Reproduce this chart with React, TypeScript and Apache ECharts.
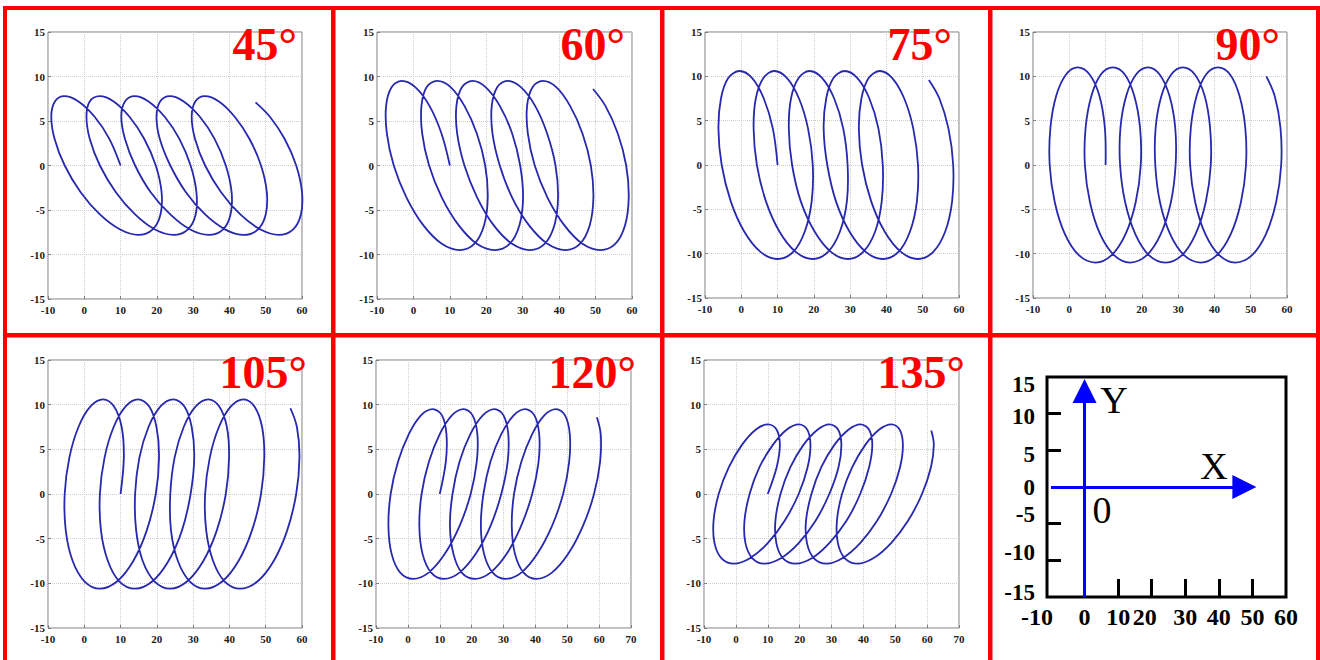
import React, { useEffect, useRef } from 'react';
import * as echarts from 'echarts';

// Helix traces (x, y) for each tilt angle, one turn every 16 samples.
const helix45: [number, number][] = [
  [10.0, 0], [6.9, 3.0], [2.8, 5.5], [-1.6, 7.2], [-5.5, 7.8], [-8.1, 7.2], [-9.1, 5.5], [-8.2, 3.0], [-5.4, 0], [-1.0, -3.0], [4.3, -5.5], [9.9, -7.2], [14.9, -7.8], [18.8, -7.2], [21.0, -5.5], [21.3, -3.0], [19.7, 0], [16.5, 3.0], [12.4, 5.5], [8.1, 7.2],
  [4.2, 7.8], [1.5, 7.2], [0.6, 5.5], [1.5, 3.0], [4.3, 0], [8.7, -3.0], [14.0, -5.5], [19.5, -7.2], [24.6, -7.8], [28.5, -7.2], [30.7, -5.5], [30.9, -3.0], [29.3, 0], [26.2, 3.0], [22.1, 5.5], [17.7, 7.2],
  [13.9, 7.8], [11.2, 7.2], [10.2, 5.5], [11.2, 3.0], [14.0, 0], [18.3, -3.0], [23.7, -5.5], [29.2, -7.2], [34.3, -7.8], [38.2, -7.2], [40.3, -5.5], [40.6, -3.0], [39.0, 0], [35.9, 3.0], [31.8, 5.5], [27.4, 7.2],
  [23.6, 7.8], [20.9, 7.2], [19.9, 5.5], [20.8, 3.0], [23.7, 0], [28.0, -3.0], [33.3, -5.5], [38.9, -7.2], [44.0, -7.8], [47.8, -7.2], [50.0, -5.5], [50.3, -3.0], [48.7, 0], [45.5, 3.0], [41.4, 5.5], [37.1, 7.2],
  [33.2, 7.8], [30.6, 7.2], [29.6, 5.5], [30.5, 3.0], [33.3, 0], [37.7, -3.0], [43.0, -5.5], [48.6, -7.2], [53.6, -7.8], [57.5, -7.2], [59.7, -5.5], [60.0, -3.0], [58.4, 0], [55.2, 3.0], [51.1, 5.5], [47.2, 7.1],
];

const helix60: [number, number][] = [
  [10.0, 0], [7.7, 3.6], [4.4, 6.7], [0.5, 8.8], [-3.2, 9.5], [-6.0, 8.8], [-7.5, 6.7], [-7.3, 3.6], [-5.4, 0], [-1.9, -3.6], [2.7, -6.7], [7.8, -8.8], [12.7, -9.5], [16.7, -8.8], [19.4, -6.7], [20.4, -3.6], [19.7, 0], [17.4, 3.6], [14.0, 6.7], [10.2, 8.8],
  [6.5, 9.5], [3.6, 8.8], [2.2, 6.7], [2.4, 3.6], [4.3, 0], [7.8, -3.6], [12.4, -6.7], [17.4, -8.8], [22.3, -9.5], [26.4, -8.8], [29.1, -6.7], [30.1, -3.6], [29.3, 0], [27.1, 3.6], [23.7, 6.7], [19.8, 8.8],
  [16.2, 9.5], [13.3, 8.8], [11.8, 6.7], [12.0, 3.6], [14.0, 0], [17.5, -3.6], [22.0, -6.7], [27.1, -8.8], [32.0, -9.5], [36.0, -8.8], [38.7, -6.7], [39.7, -3.6], [39.0, 0], [36.7, 3.6], [33.4, 6.7], [29.5, 8.8],
  [25.8, 9.5], [23.0, 8.8], [21.5, 6.7], [21.7, 3.6], [23.7, 0], [27.1, -3.6], [31.7, -6.7], [36.8, -8.8], [41.7, -9.5], [45.7, -8.8], [48.4, -6.7], [49.4, -3.6], [48.7, 0], [46.4, 3.6], [43.0, 6.7], [39.2, 8.8],
  [35.5, 9.5], [32.7, 8.8], [31.2, 6.7], [31.4, 3.6], [33.3, 0], [36.8, -3.6], [41.4, -6.7], [46.4, -8.8], [51.3, -9.5], [55.4, -8.8], [58.1, -6.7], [59.1, -3.6], [58.4, 0], [56.1, 3.6], [52.7, 6.7], [49.3, 8.6],
];

const helix75: [number, number][] = [
  [10.0, 0], [8.7, 4.1], [6.2, 7.5], [3.0, 9.8], [-0.5, 10.6], [-3.6, 9.8], [-5.6, 7.5], [-6.3, 4.1], [-5.4, 0], [-2.9, -4.1], [0.8, -7.5], [5.3, -9.8], [10.0, -10.6], [14.3, -9.8], [17.5, -7.5], [19.4, -4.1], [19.7, 0], [18.4, 4.1], [15.9, 7.5], [12.6, 9.8],
  [9.1, 10.6], [6.1, 9.8], [4.0, 7.5], [3.4, 4.1], [4.3, 0], [6.8, -4.1], [10.5, -7.5], [15.0, -9.8], [19.7, -10.6], [23.9, -9.8], [27.2, -7.5], [29.1, -4.1], [29.3, 0], [28.1, 4.1], [25.6, 7.5], [22.3, 9.8],
  [18.8, 10.6], [15.8, 9.8], [13.7, 7.5], [13.1, 4.1], [14.0, 0], [16.4, -4.1], [20.2, -7.5], [24.7, -9.8], [29.4, -10.6], [33.6, -9.8], [36.9, -7.5], [38.7, -4.1], [39.0, 0], [37.8, 4.1], [35.3, 7.5], [32.0, 9.8],
  [28.5, 10.6], [25.4, 9.8], [23.4, 7.5], [22.7, 4.1], [23.7, 0], [26.1, -4.1], [29.8, -7.5], [34.3, -9.8], [39.0, -10.6], [43.3, -9.8], [46.5, -7.5], [48.4, -4.1], [48.7, 0], [47.4, 4.1], [44.9, 7.5], [41.6, 9.8],
  [38.2, 10.6], [35.1, 9.8], [33.1, 7.5], [32.4, 4.1], [33.3, 0], [35.8, -4.1], [39.5, -7.5], [44.0, -9.8], [48.7, -10.6], [52.9, -9.8], [56.2, -7.5], [58.1, -4.1], [58.4, 0], [57.1, 4.1], [54.6, 7.5], [51.7, 9.6],
];

const helix90: [number, number][] = [
  [10.0, 0], [9.8, 4.2], [8.3, 7.8], [5.6, 10.2], [2.3, 11], [-0.9, 10.2], [-3.6, 7.8], [-5.2, 4.2], [-5.4, 0], [-4.0, -4.2], [-1.2, -7.8], [2.7, -10.2], [7.2, -11], [11.6, -10.2], [15.5, -7.8], [18.3, -4.2], [19.7, 0], [19.5, 4.2], [17.9, 7.8], [15.3, 10.2],
  [12.0, 11], [8.7, 10.2], [6.1, 7.8], [4.5, 4.2], [4.3, 0], [5.7, -4.2], [8.5, -7.8], [12.4, -10.2], [16.8, -11], [21.3, -10.2], [25.2, -7.8], [28.0, -4.2], [29.3, 0], [29.2, 4.2], [27.6, 7.8], [24.9, 10.2],
  [21.7, 11], [18.4, 10.2], [15.7, 7.8], [14.1, 4.2], [14.0, 0], [15.4, -4.2], [18.2, -7.8], [22.0, -10.2], [26.5, -11], [31.0, -10.2], [34.8, -7.8], [37.6, -4.2], [39.0, 0], [38.8, 4.2], [37.3, 7.8], [34.6, 10.2],
  [31.3, 11], [28.1, 10.2], [25.4, 7.8], [23.8, 4.2], [23.7, 0], [25.0, -4.2], [27.8, -7.8], [31.7, -10.2], [36.2, -11], [40.6, -10.2], [44.5, -7.8], [47.3, -4.2], [48.7, 0], [48.5, 4.2], [46.9, 7.8], [44.3, 10.2],
  [41.0, 11], [37.7, 10.2], [35.1, 7.8], [33.5, 4.2], [33.3, 0], [34.7, -4.2], [37.5, -7.8], [41.4, -10.2], [45.8, -11], [50.3, -10.2], [54.2, -7.8], [57.0, -4.2], [58.4, 0], [58.2, 4.2], [56.6, 7.8], [54.3, 10.0],
];

const helix105: [number, number][] = [
  [10.0, 0], [10.9, 4.1], [10.3, 7.5], [8.2, 9.8], [5.2, 10.6], [1.7, 9.8], [-1.6, 7.5], [-4.1, 4.1], [-5.4, 0], [-5.1, -4.1], [-3.2, -7.5], [0.1, -9.8], [4.3, -10.6], [9.0, -9.8], [13.5, -7.5], [17.2, -4.1], [19.7, 0], [20.6, 4.1], [19.9, 7.5], [17.9, 9.8],
  [14.8, 10.6], [11.4, 9.8], [8.1, 7.5], [5.6, 4.1], [4.3, 0], [4.6, -4.1], [6.5, -7.5], [9.7, -9.8], [14.0, -10.6], [18.7, -9.8], [23.2, -7.5], [26.9, -4.1], [29.3, 0], [30.3, 4.1], [29.6, 7.5], [27.6, 9.8],
  [24.5, 10.6], [21.0, 9.8], [17.7, 7.5], [15.2, 4.1], [14.0, 0], [14.3, -4.1], [16.1, -7.5], [19.4, -9.8], [23.7, -10.6], [28.3, -9.8], [32.8, -7.5], [36.5, -4.1], [39.0, 0], [39.9, 4.1], [39.3, 7.5], [37.2, 9.8],
  [34.2, 10.6], [30.7, 9.8], [27.4, 7.5], [24.9, 4.1], [23.7, 0], [23.9, -4.1], [25.8, -7.5], [29.1, -9.8], [33.3, -10.6], [38.0, -9.8], [42.5, -7.5], [46.2, -4.1], [48.7, 0], [49.6, 4.1], [49.0, 7.5], [46.9, 9.8],
  [43.9, 10.6], [40.4, 9.8], [37.1, 7.5], [34.6, 4.1], [33.3, 0], [33.6, -4.1], [35.5, -7.5], [38.7, -9.8], [43.0, -10.6], [47.7, -9.8], [52.2, -7.5], [55.9, -4.1], [58.4, 0], [59.3, 4.1], [58.6, 7.5], [56.8, 9.6],
];

const helix120: [number, number][] = [
  [10.0, 0], [11.9, 3.6], [12.1, 6.7], [10.7, 8.8], [7.8, 9.5], [4.1, 8.8], [0.3, 6.7], [-3.1, 3.6], [-5.4, 0], [-6.1, -3.6], [-5.1, -6.7], [-2.4, -8.8], [1.7, -9.5], [6.5, -8.8], [11.6, -6.7], [16.2, -3.6], [19.7, 0], [21.6, 3.6], [21.8, 6.7], [20.3, 8.8],
  [17.5, 9.5], [13.8, 8.8], [10.0, 6.7], [6.6, 3.6], [4.3, 0], [3.6, -3.6], [4.6, -6.7], [7.3, -8.8], [11.3, -9.5], [16.2, -8.8], [21.3, -6.7], [25.9, -3.6], [29.3, 0], [31.3, 3.6], [31.5, 6.7], [30.0, 8.8],
  [27.2, 9.5], [23.5, 8.8], [19.6, 6.7], [16.2, 3.6], [14.0, 0], [13.2, -3.6], [14.3, -6.7], [16.9, -8.8], [21.0, -9.5], [25.9, -8.8], [31.0, -6.7], [35.5, -3.6], [39.0, 0], [41.0, 3.6], [41.2, 6.7], [39.7, 8.8],
  [36.8, 9.5], [33.2, 8.8], [29.3, 6.7], [25.9, 3.6], [23.7, 0], [22.9, -3.6], [23.9, -6.7], [26.6, -8.8], [30.7, -9.5], [35.6, -8.8], [40.6, -6.7], [45.2, -3.6], [48.7, 0], [50.6, 3.6], [50.8, 6.7], [49.3, 8.8],
  [46.5, 9.5], [42.8, 8.8], [39.0, 6.7], [35.6, 3.6], [33.3, 0], [32.6, -3.6], [33.6, -6.7], [36.3, -8.8], [40.3, -9.5], [45.2, -8.8], [50.3, -6.7], [54.9, -3.6], [58.4, 0], [60.3, 3.6], [60.5, 6.7], [59.3, 8.6],
];

const helix135: [number, number][] = [
  [10.0, 0], [12.8, 3.0], [13.8, 5.5], [12.8, 7.2], [10.1, 7.8], [6.2, 7.2], [1.9, 5.5], [-2.2, 3.0], [-5.4, 0], [-7.0, -3.0], [-6.7, -5.5], [-4.5, -7.2], [-0.6, -7.8], [4.4, -7.2], [10.0, -5.5], [15.3, -3.0], [19.7, 0], [22.5, 3.0], [23.4, 5.5], [22.4, 7.2],
  [19.8, 7.8], [15.9, 7.2], [11.6, 5.5], [7.4, 3.0], [4.3, 0], [2.7, -3.0], [3.0, -5.5], [5.2, -7.2], [9.0, -7.8], [14.1, -7.2], [19.7, -5.5], [25.0, -3.0], [29.3, 0], [32.2, 3.0], [33.1, 5.5], [32.1, 7.2],
  [29.4, 7.8], [25.6, 7.2], [21.2, 5.5], [17.1, 3.0], [14.0, 0], [12.4, -3.0], [12.7, -5.5], [14.8, -7.2], [18.7, -7.8], [23.8, -7.2], [29.3, -5.5], [34.7, -3.0], [39.0, 0], [41.8, 3.0], [42.8, 5.5], [41.8, 7.2],
  [39.1, 7.8], [35.3, 7.2], [30.9, 5.5], [26.8, 3.0], [23.7, 0], [22.0, -3.0], [22.3, -5.5], [24.5, -7.2], [28.4, -7.8], [33.4, -7.2], [39.0, -5.5], [44.3, -3.0], [48.7, 0], [51.5, 3.0], [52.4, 5.5], [51.4, 7.2],
  [48.8, 7.8], [44.9, 7.2], [40.6, 5.5], [36.5, 3.0], [33.3, 0], [31.7, -3.0], [32.0, -5.5], [34.2, -7.2], [38.1, -7.8], [43.1, -7.2], [48.7, -5.5], [54.0, -3.0], [58.4, 0], [61.2, 3.0], [62.1, 5.5], [61.3, 7.1],
];

const helices = [helix45, helix60, helix75, helix90, helix105, helix120, helix135];
const panelTitles = ['45°', '60°', '75°', '90°', '105°', '120°', '135°'];
const panelXMax = [60, 60, 60, 60, 60, 70, 70];

// Coordinate-frame sketch: axis arrows and their names.
const xArrow: [number, number][] = [[-10, 0], [47.6, 0]];
const yArrow: [number, number][] = [[0, -15], [0, 13.1]];
const frameTickX = [10, 20, 30, 40, 50];
const frameTickY = [-10, -5, 5, 10];
const frameNames = ['Y', 'X', '0'];

// Layout
const plotRects = [
  { left: 48, top: 32, width: 254, height: 267 },
  { left: 377, top: 32, width: 255, height: 267 },
  { left: 705, top: 32, width: 254, height: 266 },
  { left: 1033, top: 32, width: 254, height: 266 },
  { left: 48, top: 360, width: 254, height: 268 },
  { left: 376, top: 360, width: 255, height: 268 },
  { left: 704, top: 360, width: 255, height: 268 },
];
const titlePos = [
  [297, 44], [625, 44], [952, 44], [1280, 44],
  [307, 372], [636, 372], [965, 372],
];
const frameRect = { left: 1051, top: 377, width: 235, height: 220 };
const frameBox = { x: 1047, y: 377, width: 239, height: 220 };
const namePos = [[1114, 400], [1214, 466], [1102, 510]];
const redBars = [
  [3, 6, 1317, 4], [3, 6, 4, 654], [1316, 6, 4, 654], [3, 333, 1317, 4.5],
  [331, 6, 4.5, 654], [660, 6, 4.5, 654], [988, 6, 4.5, 654],
];
// Vertical nudges (px) of the frame's y labels, keyed by value.
const frameYLabelShift: Record<string, number> = { '15': 7, '10': 3, '5': 4, '0': 0, '-5': -9, '-10': -8, '-15': -5 };

const FONT = 'Liberation Serif';
const BOX_GRAY = '#7d7d7d';
const CURVE_BLUE = '#2828ad';

function buildOption(): echarts.EChartsCoreOption {
  const grid: any[] = plotRects.map((r) => ({
    ...r,
    show: true,
    borderColor: BOX_GRAY,
    borderWidth: 1,
    backgroundColor: '#ffffff',
  }));
  grid.push({ ...frameRect, show: false });

  const tickLabel = {
    fontFamily: FONT,
    fontWeight: 'bold',
    fontSize: 11,
    color: '#1a1a1a',
  };
  const split = { show: true, lineStyle: { color: '#cdcdcd', type: 'dotted', width: 1 } };
  const tick = { show: true, inside: true, length: 3, lineStyle: { color: BOX_GRAY } };

  const xAxis: any[] = plotRects.map((_, i) => ({
    type: 'value',
    gridIndex: i,
    min: -10,
    max: panelXMax[i],
    interval: 10,
    axisLine: { show: false, onZero: false },
    axisTick: tick,
    axisLabel: { ...tickLabel, margin: 5 },
    splitLine: split,
  }));
  const yAxis: any[] = plotRects.map((_, i) => ({
    type: 'value',
    gridIndex: i,
    min: -15,
    max: 15,
    interval: 5,
    axisLine: { show: false, onZero: false },
    axisTick: tick,
    axisLabel: { ...tickLabel, margin: 3 },
    splitLine: split,
  }));

  const bigLabel = { fontFamily: FONT, fontWeight: 'bold', fontSize: 24, color: '#000' };
  xAxis.push({
    type: 'value',
    gridIndex: 7,
    min: -10,
    max: 60,
    interval: 10,
    axisLine: { show: false, onZero: false },
    axisTick: {
      show: true,
      inside: true,
      length: 18,
      customValues: frameTickX,
      lineStyle: { color: '#000', width: 3 },
    },
    axisLabel: {
      ...bigLabel,
      margin: 8,
      formatter: (v: number) => (v === -10 ? '{l|-10}' : v === 20 ? '{m|20}' : String(v)),
      rich: {
        l: { ...bigLabel, padding: [0, 28, 0, 0] },
        m: { ...bigLabel, padding: [0, 14, 0, 0] },
      },
    },
    splitLine: { show: false },
  });

  const yKeys = Object.keys(frameYLabelShift);
  const yRich: Record<string, any> = {};
  yKeys.forEach((k, idx) => {
    const s = frameYLabelShift[k];
    yRich['y' + idx] = {
      ...bigLabel,
      fontSize: 23,
      padding: s >= 0 ? [2 * s, 0, 0, 0] : [0, 0, -2 * s, 0],
    };
  });
  yAxis.push({
    type: 'value',
    gridIndex: 7,
    min: -15,
    max: 15,
    interval: 5,
    offset: 4,
    axisLine: { show: false, onZero: false },
    axisTick: {
      show: true,
      inside: true,
      length: 14,
      customValues: frameTickY,
      lineStyle: { color: '#000', width: 3 },
    },
    axisLabel: {
      ...bigLabel,
      fontSize: 23,
      margin: 12,
      formatter: (v: number) => {
        const idx = yKeys.indexOf(String(v));
        return idx >= 0 ? `{y${idx}|${v}}` : String(v);
      },
      rich: yRich,
    },
    splitLine: { show: false },
  });

  // Each trace is drawn as one smoothed polyline in its own grid.
  const series: any[] = helices.map((pts, i) => ({
    type: 'custom',
    coordinateSystem: 'cartesian2d',
    xAxisIndex: i,
    yAxisIndex: i,
    data: pts,
    silent: true,
    renderItem: (params: any, api: any) => {
      if (params.dataIndex !== 0) return null;
      const points = pts.map((p) => api.coord(p));
      return {
        type: 'polyline',
        shape: { points, smooth: 0.35 },
        style: { stroke: CURVE_BLUE, lineWidth: 1.8, fill: 'none' },
      };
    },
  }));
  series.push({
    type: 'lines',
    coordinateSystem: 'cartesian2d',
    xAxisIndex: 7,
    yAxisIndex: 7,
    silent: true,
    symbol: ['none', 'triangle'],
    symbolSize: 24,
    lineStyle: { color: '#0000ff', width: 3, opacity: 1 },
    data: [{ coords: xArrow }, { coords: yArrow }],
    z: 5,
  });

  const elements: any[] = [];
  elements.push({
    type: 'rect',
    silent: true,
    z: 1,
    shape: { ...frameBox },
    style: { fill: 'none', stroke: '#000', lineWidth: 3 },
  });
  redBars.forEach(([x, y, w, h]) => {
    elements.push({
      type: 'rect',
      silent: true,
      z: 100,
      shape: { x, y, width: w, height: h },
      style: { fill: '#ff0000' },
    });
  });
  panelTitles.forEach((t, i) => {
    elements.push({
      type: 'text',
      silent: true,
      z: 100,
      x: titlePos[i][0],
      y: titlePos[i][1],
      style: {
        text: t,
        fill: '#ff0000',
        fontSize: 46,
        fontWeight: 'bold',
        fontFamily: FONT,
        align: 'right',
        verticalAlign: 'middle',
      },
    });
  });
  frameNames.forEach((t, i) => {
    elements.push({
      type: 'text',
      silent: true,
      z: 100,
      x: namePos[i][0],
      y: namePos[i][1],
      style: {
        text: t,
        fill: '#000',
        fontSize: 38,
        fontFamily: FONT,
        align: 'center',
        verticalAlign: 'middle',
      },
    });
  });

  return {
    animation: false,
    backgroundColor: '#ffffff',
    grid,
    xAxis,
    yAxis,
    series,
    graphic: { elements },
  };
}

export default function App() {
  const ref = useRef<HTMLDivElement>(null);

  useEffect(() => {
    const el = ref.current;
    if (!el) return;
    const chart = echarts.init(el, null, { renderer: 'svg' });
    chart.setOption(buildOption());
    return () => {
      chart.dispose();
    };
  }, []);

  return (
    <div
      ref={ref}
      style={{ position: 'absolute', left: 0, top: 0, width: 1320, height: 660, background: '#ffffff' }}
    />
  );
}
